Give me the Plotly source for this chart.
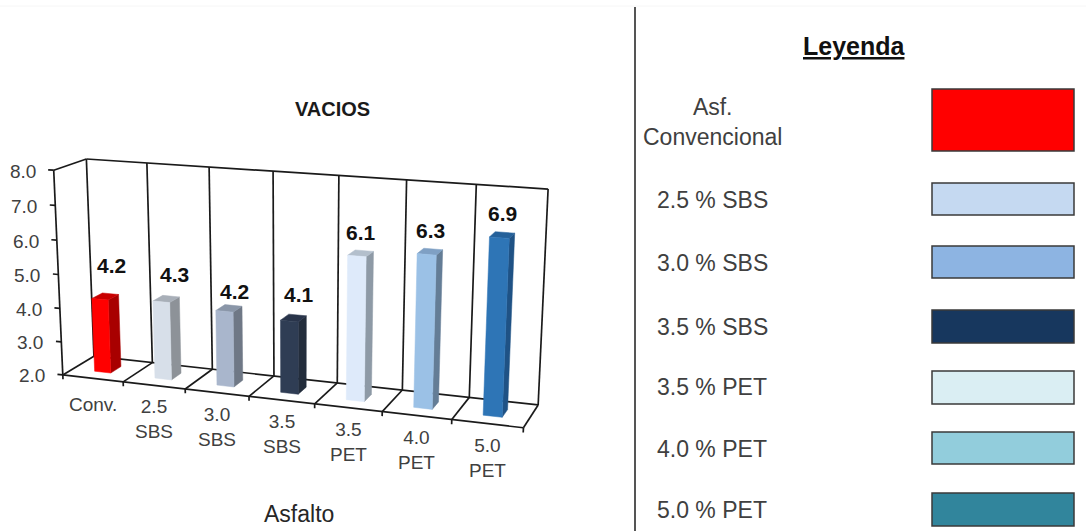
import numpy as np
import plotly.graph_objects as go

# Chart data
categories = ["Conv.", "2.5<br>SBS", "3.0<br>SBS", "3.5<br>SBS", "3.5<br>PET", "4.0<br>PET", "5.0<br>PET"]
values = [4.2, 4.3, 4.2, 4.1, 6.1, 6.3, 6.9]
z_ticks = [2, 3, 4, 5, 6, 7, 8]
chart_title = "VACIOS"
axis_title = "Asfalto"

# Legend entries
legend_title = "Leyenda"
legend_labels = ["Asf.<br>Convencional", "2.5 % SBS", "3.0 % SBS", "3.5 % SBS",
                 "3.5 % PET", "4.0 % PET", "5.0 % PET"]
legend_colors = ["#ff0000", "#c5d9f1", "#8db4e2", "#17375e", "#daeef3", "#92cddc", "#31859c"]

# Bar face shades
front_colors = ["#ff0000", "#d7dfe9", "#a9b6cc", "#2f3d54", "#deeafa", "#9bc1e6", "#2e75b6"]
side_colors = ["#a80000", "#8d9298", "#6f7886", "#232d3c", "#8e9aa6", "#647d96", "#1f5285"]
top_colors = ["#c80000", "#a8afb8", "#8a96a8", "#29344a", "#b3bfcc", "#7fa0c4", "#25619a"]

# Perspective projection from (category, depth, value) to the page
CAMERA = np.array([
    [57.97222, 34.46149, -1.82564, 65.67657],
    [1.719092, -4.380677, -34.74434, 439.7914],
    [-0.01341497, 0.03958516, -0.006155082, 1.0],
])


def project(x, y, z):
    q = CAMERA @ np.array([x, y, z, 1.0])
    return q[0] / q[2], q[1] / q[2]


BAR_WIDTH = 0.27
BAR_FRONT, BAR_BACK = 0.32, 0.66
LINE_COLOR = "#1a1a1a"
TEXT_COLOR = "#404040"
FONT = "Liberation Sans"
z_lo, z_hi = z_ticks[0], z_ticks[-1]
n = len(values)

fig = go.Figure()

# Wall and floor frame, with tick stubs
lx, ly = [], []


def seg(a, b):
    p, q = project(*a), project(*b)
    lx.extend([p[0], q[0], None])
    ly.extend([p[1], q[1], None])


seg((0, 0, z_lo), (0, 0, z_hi))
seg((0, 0, z_hi), (0, 1, z_hi))
seg((0, 1, z_hi), (n, 1, z_hi))
seg((0, 0, z_lo), (n, 0, z_lo))
seg((0, 1, z_lo), (n, 1, z_lo))
for i in range(n + 1):
    seg((i, 1, z_lo), (i, 1, z_hi))
    seg((i, 0, z_lo), (i, 1, z_lo))
    seg((i, 0, z_lo), (i, 0, z_lo - 0.13))
for t in z_ticks:
    seg((0, 0, t), (-0.09, 0, t))
fig.add_trace(go.Scatter(x=lx, y=ly, mode="lines", line=dict(color=LINE_COLOR, width=1.7),
                         hoverinfo="skip"))


def face(corners, color, value, name):
    pts = [project(*c) for c in corners]
    xs = [p[0] for p in pts] + [pts[0][0]]
    ys = [p[1] for p in pts] + [pts[0][1]]
    fig.add_trace(go.Scatter(x=xs, y=ys, mode="lines", fill="toself", fillcolor=color,
                             line=dict(color=color, width=0.5), name=name,
                             customdata=[value] * len(xs),
                             hovertemplate="%{customdata:.1f}<extra>" + name + "</extra>"))


# Bars: front, side and top faces raised from the floor to each value
for i, v in enumerate(values):
    x0, x1 = i + 0.5 - BAR_WIDTH / 2, i + 0.5 + BAR_WIDTH / 2
    y0, y1 = BAR_FRONT, BAR_BACK
    name = categories[i].replace("<br>", " ")
    face([(x1, y0, z_lo), (x1, y1, z_lo), (x1, y1, v), (x1, y0, v)], side_colors[i], v, name)
    face([(x0, y0, v), (x1, y0, v), (x1, y1, v), (x0, y1, v)], top_colors[i], v, name)
    face([(x0, y0, z_lo), (x1, y0, z_lo), (x1, y0, v), (x0, y0, v)], front_colors[i], v, name)

annotations = []


def text(x, y, s, size, color=TEXT_COLOR, xanchor="center", **font_extra):
    annotations.append(dict(x=x, y=y, text=s, showarrow=False, xanchor=xanchor, yanchor="middle",
                            font=dict(family=FONT, size=size, color=color, **font_extra)))


# Value axis labels
for t in z_ticks:
    px, py = project(0, 0, t)
    text(px - 16, py + 1, f"{t:.1f}", 19, xanchor="right")

# Category labels under the front floor edge
for i, c in enumerate(categories):
    px, py = project(i + 0.5, 0, z_lo)
    text(px, py + (26 if "<br>" not in c else 34), c, 19)

# Bold value labels above the bars
label_dx = [6, 8, 5, 5, 0, 0, 0]
label_dy = [31, 24, 17, 23, 21, 21, 21]
for i, v in enumerate(values):
    px, py = project(i + 0.5, 0.5, v)
    text(px + label_dx[i], py - label_dy[i], f"<b>{v:.1f}</b>", 21, color="#111111")

text(332, 109, f"<b>{chart_title}</b>", 20, color="#1a1a1a")
text(299, 514, axis_title, 23, color="#262626")

# Legend panel
text(854, 46, f"<b>{legend_title}</b>", 25, color="#111111", lineposition="under")
legend_text_y = [122, 200, 263, 327, 387, 449, 510]
swatch_top = [89, 183, 246, 310, 371, 432, 493]
swatch_bottom = [151, 215, 278, 343, 404, 464, 526]
shapes = [
    dict(type="line", xref="x", yref="y", x0=0, x1=1086, y0=6, y1=6, line=dict(color="#f6f6f6", width=1)),
    dict(type="line", xref="x", yref="y", x0=635, x1=635, y0=7, y1=531, line=dict(color="#555555", width=2)),
]
for label, color, ty, top, bottom in zip(legend_labels, legend_colors, legend_text_y, swatch_top, swatch_bottom):
    text(712, ty, label, 23)
    shapes.append(dict(type="rect", xref="x", yref="y", x0=932, x1=1074, y0=top, y1=bottom,
                       fillcolor=color, line=dict(color="#3a3a3a", width=1.5)))

fig.update_layout(
    width=1086, height=531, margin=dict(l=0, r=0, t=0, b=0),
    paper_bgcolor="white", plot_bgcolor="white", showlegend=False,
    xaxis=dict(visible=False, range=[0, 1086], fixedrange=True),
    yaxis=dict(visible=False, range=[531, 0], fixedrange=True),
    annotations=annotations, shapes=shapes,
)
fig.write_html("out.html")
